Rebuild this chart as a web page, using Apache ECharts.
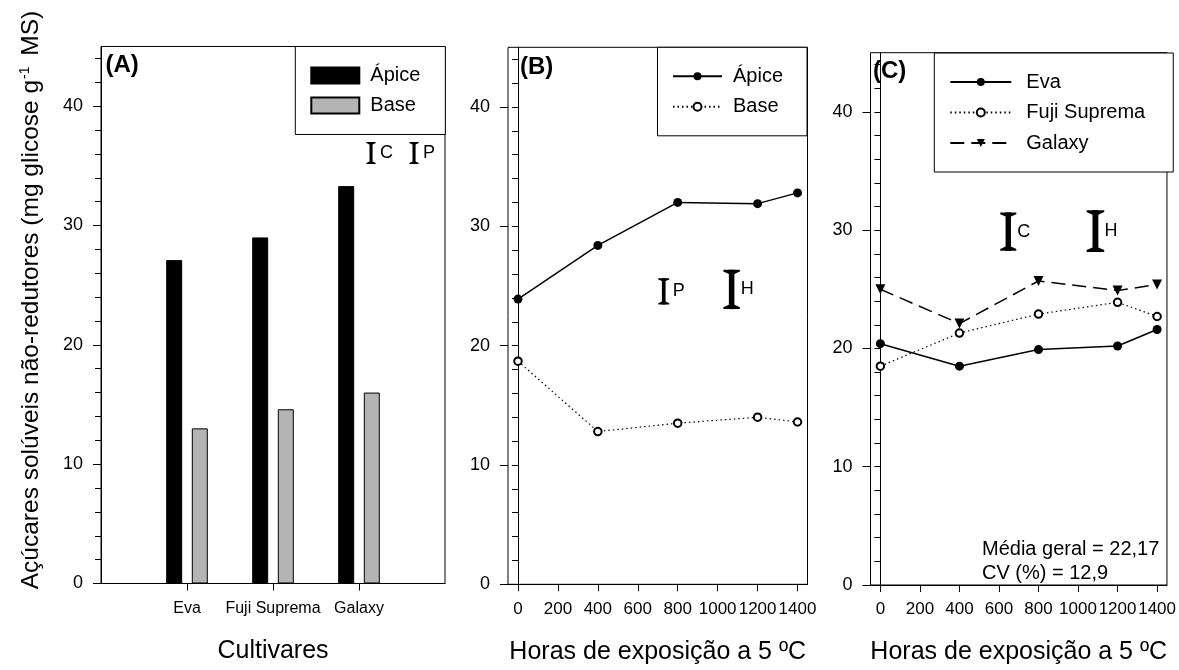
<!DOCTYPE html>
<html>
<head>
<meta charset="utf-8">
<script src="https://cdn.jsdelivr.net/npm/echarts@6/dist/echarts.min.js"></script>
<style>html,body{margin:0;padding:0;background:#fff;}#c{width:1179px;height:670px;}</style>
</head>
<body>
<div id="c"></div>
<script>
// ---- data ----
const categoriesA = ['Eva', 'Fuji Suprema', 'Galaxy'];
const apiceA = [27.1, 29.0, 33.3];
const baseA = [13.0, 14.6, 16.0];
const horas = [0, 400, 800, 1200, 1400];
const apiceB = [23.9, 28.4, 32.0, 31.9, 32.8];
const baseB = [18.7, 12.8, 13.5, 14.0, 13.6];
const evaC = [20.4, 18.5, 19.9, 20.2, 21.6];
const fujiC = [18.5, 21.3, 22.9, 23.9, 22.7];
const galaxyC = [25.0, 22.1, 25.7, 24.9, 25.4];
const yTickLabels = [0, 10, 20, 30, 40];
const yTickMarks = [0, 2, 4, 6, 8, 10, 12, 14, 16, 18, 20, 22, 24, 26, 28, 30, 32, 34, 36, 38, 40, 42, 44];
const xTickHoras = [0, 200, 400, 600, 800, 1000, 1200, 1400];
// LSD bars: [x, low, high, letter]
const lsdA = [[3.14, 35.15, 37.0, 'C'], [3.64, 35.15, 37.0, 'P']];
const lsdB = [[730, 23.45, 25.65, 'P'], [1070, 23.06, 26.36, 'H']];
const lsdC = [[647, 28.26, 31.5, 'C'], [1088, 28.15, 31.69, 'H']];
const mediaGeral = '22,17';
const cvPct = '12,9';

const FF = 'Liberation Sans, Arial, sans-serif';
const chart = echarts.init(document.getElementById('c'), null, {renderer: 'canvas'});

function yAxisFor(gi) {
  return {
    type: 'value', gridIndex: gi, min: 0, max: 45, position: 'left', offset: 0,
    axisLine: {show: true, lineStyle: {color: '#000', width: 1}},
    axisTick: {show: true, customValues: yTickMarks, length: 6, lineStyle: {color: '#000', width: 1}},
    axisLabel: {customValues: yTickLabels, margin: 18, fontSize: 18, color: '#000', fontFamily: FF,
      formatter: v => String(v)},
    splitLine: {show: false}
  };
}
function yMajorFor(gi) {
  return {
    type: 'value', gridIndex: gi, min: 0, max: 45, position: 'left', offset: 0,
    axisLine: {show: false},
    axisTick: {show: true, customValues: yTickLabels, length: 8, lineStyle: {color: '#000', width: 1}},
    axisLabel: {show: false},
    splitLine: {show: false}
  };
}
function xAxisHoras(gi, margin) {
  return {
    type: 'value', gridIndex: gi, min: -50, max: 1450,
    axisLine: {show: true, onZero: false, lineStyle: {color: '#000', width: 1}},
    axisTick: {show: true, customValues: xTickHoras, length: 7, lineStyle: {color: '#000'}},
    axisLabel: {customValues: xTickHoras, margin: margin, fontSize: 17, color: '#000', fontFamily: FF,
      formatter: v => String(v), showMinLabel: true, showMaxLabel: true, hideOverlap: false},
    splitLine: {show: false},
    name: 'Horas de exposição a 5 ºC', nameLocation: 'middle', nameGap: 55,
    nameTextStyle: {fontSize: 25, color: '#000', fontFamily: FF}
  };
}
function lsdRender(src) {
  return function (params, api) {
    const d = src[params.dataIndex];
    const top = api.coord([d[0], d[2]]);
    const bot = api.coord([d[0], d[1]]);
    const h = bot[1] - top[1];
    const cx = top[0];
    const cw = h * 0.42, sw = Math.max(2, h * 0.14), ct = Math.max(1.3, h * 0.065);
    return {
      type: 'group', children: [
        {type: 'rect', shape: {x: cx - sw / 2, y: top[1], width: sw, height: h}, style: {fill: '#000'}},
        {type: 'polygon', shape: {points: [[cx - cw / 2, top[1]], [cx + cw / 2, top[1]], [cx + cw / 2, top[1] + ct * 0.7], [cx + sw / 2, top[1] + ct * 1.7], [cx - sw / 2, top[1] + ct * 1.7], [cx - cw / 2, top[1] + ct * 0.7]]}, style: {fill: '#000'}},
        {type: 'polygon', shape: {points: [[cx - cw / 2, bot[1]], [cx + cw / 2, bot[1]], [cx + cw / 2, bot[1] - ct * 0.7], [cx + sw / 2, bot[1] - ct * 1.7], [cx - sw / 2, bot[1] - ct * 1.7], [cx - cw / 2, bot[1] - ct * 0.7]]}, style: {fill: '#000'}},
        {type: 'text', x: cx + 9, y: (top[1] + bot[1]) / 2, style: {text: d[3], fontSize: 18, fontFamily: FF, fill: '#000', verticalAlign: 'middle', align: 'left'}}
      ]
    };
  };
}
function lsdSeries(src, idx) {
  return {
    type: 'custom', xAxisIndex: idx, yAxisIndex: idx, silent: true, clip: false,
    renderItem: lsdRender(src),
    encode: {x: 0, y: [1, 2]},
    data: src.map(d => [d[0], d[1], d[2]])
  };
}
const nameFmt = n => n.split('|')[1];

const option = {
  backgroundColor: '#fff',
  animation: false,
  grid: [
    {left: 101, top: 46.5, width: 344, height: 537, show: true, borderColor: '#000', borderWidth: 1},
    {left: 508, top: 47.3, width: 299.5, height: 537, show: true, borderColor: '#000', borderWidth: 1},
    {left: 870.5, top: 52.7, width: 299.5, height: 537, show: true, borderColor: '#000', borderWidth: 1}
  ],
  xAxis: [
    {
      type: 'value', gridIndex: 0, min: 0, max: 4,
      axisLine: {show: true, onZero: false, lineStyle: {color: '#000', width: 1}},
      axisTick: {show: true, customValues: [1, 2, 3], length: 7, lineStyle: {color: '#000'}},
      axisLabel: {customValues: [1, 2, 3], formatter: v => categoriesA[Math.round(v) - 1], margin: 17, fontSize: 16, color: '#000', fontFamily: FF, hideOverlap: false},
      splitLine: {show: false},
      name: 'Cultivares', nameLocation: 'middle', nameGap: 55,
      nameTextStyle: {fontSize: 25, color: '#000', fontFamily: FF}
    },
    xAxisHoras(1, 17),
    xAxisHoras(2, 16)
  ],
  yAxis: [yAxisFor(0), yAxisFor(1), yAxisFor(2), yMajorFor(0), yMajorFor(1), yMajorFor(2)],
  legend: [
    {
      data: ['A|Ápice', 'A|Base'], formatter: nameFmt, icon: 'rect',
      left: 295.3, top: 46.5, orient: 'vertical', itemWidth: 48, itemHeight: 16, itemGap: 10,
      padding: [19, 25, 19, 15], borderColor: '#000', borderWidth: 1, backgroundColor: '#fff',
      textStyle: {fontSize: 20, lineHeight: 16, color: '#000', fontFamily: FF, padding: [0, 0, 0, 6]},
      selectedMode: false
    },
    {
      data: ['B|Ápice', 'B|Base'], formatter: nameFmt,
      left: 657.5, top: 47.3, orient: 'vertical', itemWidth: 49, itemHeight: 10, itemGap: 10.5,
      padding: [19, 24, 19, 14.5], borderColor: '#000', borderWidth: 1, backgroundColor: '#fff',
      textStyle: {fontSize: 20, lineHeight: 16, color: '#000', fontFamily: FF, padding: [0, 0, 0, 6]},
      selectedMode: false
    },
    {
      data: ['C|Eva', 'C|Fuji Suprema', 'C|Galaxy'], formatter: nameFmt,
      left: 934.3, top: 53, orient: 'vertical', itemWidth: 61, itemHeight: 10, itemGap: 10.5,
      padding: [19, 28, 19, 15], borderColor: '#000', borderWidth: 1, backgroundColor: '#fff',
      textStyle: {fontSize: 20, lineHeight: 16, color: '#000', fontFamily: FF, padding: [0, 0, 0, 10]},
      selectedMode: false
    }
  ],
  series: [
    {
      name: 'A|Ápice', type: 'bar', xAxisIndex: 0, yAxisIndex: 0, barWidth: 16, barGap: '60%',
      itemStyle: {color: '#000', borderColor: '#000', borderWidth: 1},
      data: apiceA.map((v, i) => [i + 1, v])
    },
    {
      name: 'A|Base', type: 'bar', xAxisIndex: 0, yAxisIndex: 0, barWidth: 16, barGap: '60%',
      itemStyle: {color: '#b4b4b4', borderColor: '#000', borderWidth: 1},
      data: baseA.map((v, i) => [i + 1, v])
    },
    lsdSeries(lsdA, 0),
    {
      name: 'B|Ápice', type: 'line', xAxisIndex: 1, yAxisIndex: 1,
      symbol: 'circle', symbolSize: 9, itemStyle: {color: '#000'},
      lineStyle: {color: '#000', width: 1.5, type: 'solid'},
      data: horas.map((h, i) => [h, apiceB[i]])
    },
    {
      name: 'B|Base', type: 'line', xAxisIndex: 1, yAxisIndex: 1,
      symbol: 'emptyCircle', symbolSize: 7.5, itemStyle: {color: '#000', borderWidth: 1},
      lineStyle: {color: '#000', width: 1.2, type: [1.5, 3]},
      data: horas.map((h, i) => [h, baseB[i]])
    },
    lsdSeries(lsdB, 1),
    {
      name: 'C|Eva', type: 'line', xAxisIndex: 2, yAxisIndex: 2,
      symbol: 'circle', symbolSize: 9, itemStyle: {color: '#000'},
      lineStyle: {color: '#000', width: 1.5, type: 'solid'},
      data: horas.map((h, i) => [h, evaC[i]])
    },
    {
      name: 'C|Fuji Suprema', type: 'line', xAxisIndex: 2, yAxisIndex: 2,
      symbol: 'emptyCircle', symbolSize: 7.5, itemStyle: {color: '#000', borderWidth: 1},
      lineStyle: {color: '#000', width: 1.2, type: [1.5, 3]},
      data: horas.map((h, i) => [h, fujiC[i]])
    },
    {
      name: 'C|Galaxy', type: 'line', xAxisIndex: 2, yAxisIndex: 2,
      symbol: 'triangle', symbolRotate: 180, symbolSize: 10, itemStyle: {color: '#000'},
      lineStyle: {color: '#000', width: 1.5, type: [14, 7]},
      data: horas.map((h, i) => [h, galaxyC[i]])
    },
    lsdSeries(lsdC, 2)
  ],
  graphic: [
    {type: 'text', x: 105.5, y: 65, style: {text: '(A)', fontSize: 24, fontWeight: 'bold', fontFamily: FF, fill: '#000', verticalAlign: 'middle'}},
    {type: 'text', x: 520, y: 67, style: {text: '(B)', fontSize: 24, fontWeight: 'bold', fontFamily: FF, fill: '#000', verticalAlign: 'middle'}},
    {type: 'text', x: 873, y: 71.5, style: {text: '(C)', fontSize: 24, fontWeight: 'bold', fontFamily: FF, fill: '#000', verticalAlign: 'middle'}},
    {type: 'text', x: 982, y: 549, style: {text: 'Média geral = ' + mediaGeral, fontSize: 20, fontFamily: FF, fill: '#000', verticalAlign: 'middle'}},
    {type: 'text', x: 982, y: 573, style: {text: 'CV (%) = ' + cvPct, fontSize: 20, fontFamily: FF, fill: '#000', verticalAlign: 'middle'}},
    {
      type: 'text', x: 31, y: 300, rotation: Math.PI / 2,
      style: {
        text: 'Açúcares solúveis não-redutores (mg glicose g{sup|-1} MS)',
        fontSize: 24.5, fontFamily: FF, fill: '#000', align: 'center', verticalAlign: 'middle',
        rich: {sup: {fontSize: 14, fontFamily: FF, fill: '#000', verticalAlign: 'top', padding: [0, 4, 0, 1]}}
      }
    }
  ]
};
chart.setOption(option);
</script>
</body>
</html>
